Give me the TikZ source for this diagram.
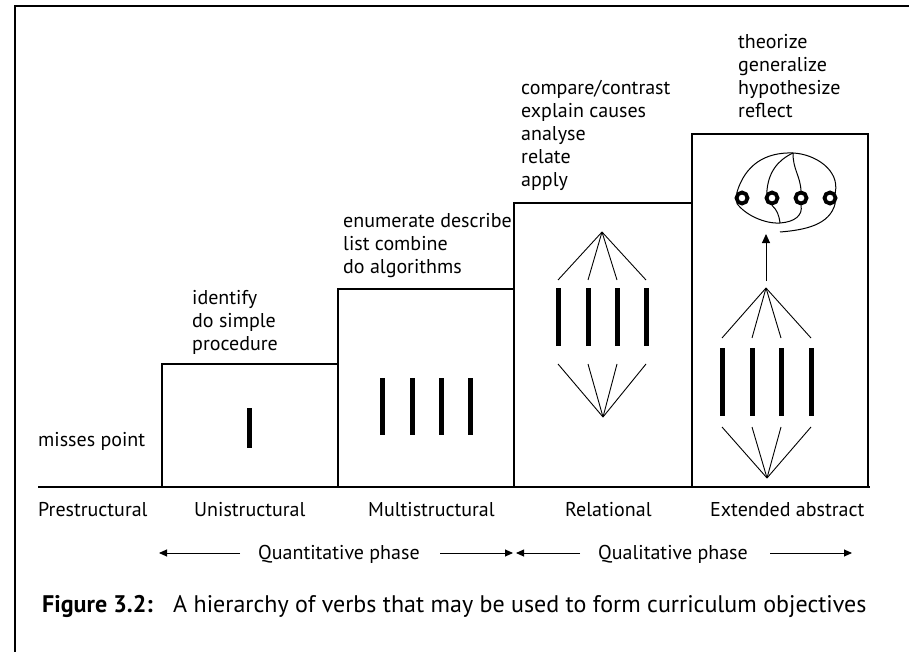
\documentclass[tikz,border=0pt]{standalone}
\usepackage{fontspec}
\setmainfont{PT Sans}
\usetikzlibrary{arrows.meta}
\begin{document}
\begin{tikzpicture}[x=1pt,y=-1pt,
  txt/.style={font=\fontsize{20}{23}\selectfont, inner sep=0pt, anchor=base west},
  captxt/.style={font=\fontsize{24}{28}\selectfont, inner sep=0pt, anchor=base west},
  frame/.style={line width=2.5pt},
  stepline/.style={line width=1.1pt},
  bar/.style={line width=5pt},
  fan/.style={line width=0.9pt},
  ring/.style={draw, line width=3.8pt, circle, minimum size=11pt, inner sep=0pt},
  arc/.style={line width=1pt},
  phase/.style={-{Triangle[length=8pt,width=7pt]}, line width=0.9pt},
  up/.style={-{Triangle[length=9pt,width=8pt]}, line width=1pt},
]
\useasboundingbox (0,0) rectangle (909,652);
\draw[frame] (15,652) -- (15,6) -- (909,6);
% steps
\draw[stepline] (38,487) -- (870,487);
\draw[stepline] (162,487) -- (162,364) -- (338,364) -- (338,487);
\draw[stepline] (338,364) -- (338,289) -- (514,289) -- (514,487);
\draw[stepline] (514,289) -- (514,203) -- (692,203) -- (692,487);
\draw[stepline] (692,203) -- (692,134) -- (868,134) -- (868,487);
% verbs
\node[txt] (mp) at (38,446) {misses point};
\foreach \t [count=\i] in {identify,do simple,procedure}
  \node[txt] (us\i) at (192,304+23*\i-23) {\t};
\foreach \t [count=\i] in {enumerate describe,list combine,do algorithms}
  \node[txt] (ms\i) at (343,227+23*\i-23) {\t};
\foreach \t [count=\i] in {compare/contrast,explain causes,analyse,relate,apply}
  \node[txt] (rl\i) at (521,95+23*\i-23) {\t};
\foreach \t [count=\i] in {theorize,generalize,hypothesize,reflect}
  \node[txt] (ea\i) at (738,49+23*\i-23) {\t};
% level labels
\node[txt] (l1) at (38,516) {Prestructural};
\node[txt] (l2) at (194,516) {Unistructural};
\node[txt] (l3) at (368,516) {Multistructural};
\node[txt] (l4) at (565,516) {Relational};
\node[txt] (l5) at (710,516) {Extended abstract};
% phases
\node[txt] (qn) at (258,559) {Quantitative phase};
\node[txt] (ql) at (598,559) {Qualitative phase};
\coordinate (a1) at (159,553); \coordinate (a1s) at (240,553);
\coordinate (a2) at (513,553); \coordinate (a2s) at (440,553);
\coordinate (a3) at (516,553); \coordinate (a3s) at (580,553);
\coordinate (a4) at (852,553); \coordinate (a4s) at (770,553);
\draw[phase] (a1s) -- (a1);
\draw[phase] (a2s) -- (a2);
\draw[phase] (a3s) -- (a3);
\draw[phase] (a4s) -- (a4);
% caption
\node[captxt, font=\fontsize{24}{28}\selectfont\bfseries] (fig) at (42,612) {Figure 3.2:};
\node[captxt] (cap) at (173,612) {A hierarchy of verbs that may be used to form curriculum objectives};
% unistructural bar
\draw[bar] (249,408) -- (249,448);
% multistructural bars
\foreach \x in {382,412,441,470} \draw[bar] (\x,378) -- (\x,435);
% relational
\coordinate (rt) at (602,232);
\coordinate (rb) at (603,417);
\foreach \x [count=\i] in {558,588,617,646} {
  \draw[bar] (\x,288) -- (\x,346);
  \coordinate (rtu\i) at (\x,280);
  \coordinate (rbd\i) at (\x,364);
  \draw[fan] (rt) -- (rtu\i);
  \draw[fan] (rb) -- (rbd\i);
}
% extended abstract
\coordinate (et) at (766,288);
\coordinate (eb) at (767,478);
\foreach \x [count=\i] in {722,752,781,811} {
  \draw[bar] (\x,348) -- (\x,416);
  \coordinate (etu\i) at (\x,338);
  \coordinate (ebd\i) at (\x,427);
  \draw[fan] (et) -- (etu\i);
  \draw[fan] (eb) -- (ebd\i);
}
\coordinate (ars) at (766,281);
\coordinate (art) at (766,234);
\draw[up] (ars) -- (art);
% rings
\node[ring] (c1) at (742,198) {};
\node[ring] (c2) at (772,198) {};
\node[ring] (c3) at (801,198) {};
\node[ring] (c4) at (830,198) {};
\coordinate (top) at (793,153);
\draw[arc] (c1.north west) .. controls (745,165) and (765,152) .. (top)
   .. controls (815,154) and (840,170) .. (c4.north east);
\draw[arc] (top) .. controls (778,160) and (768,172) .. (c2.north west);
\draw[arc] (top) .. controls (793,170) and (800,175) .. (c3.north);
\coordinate (low) at (780,223);
\draw[arc] (c1.south west) .. controls (745,215) and (765,224) .. (low)
   .. controls (795,222) and (803,215) .. (c3.south);
\draw[arc] (c2.south) .. controls (777,210) and (779,215) .. (low);
\coordinate (low2) at (780,232);
\draw[arc] (low2) .. controls (805,230) and (830,225) .. (c4.south east);
\end{tikzpicture}
\end{document}
